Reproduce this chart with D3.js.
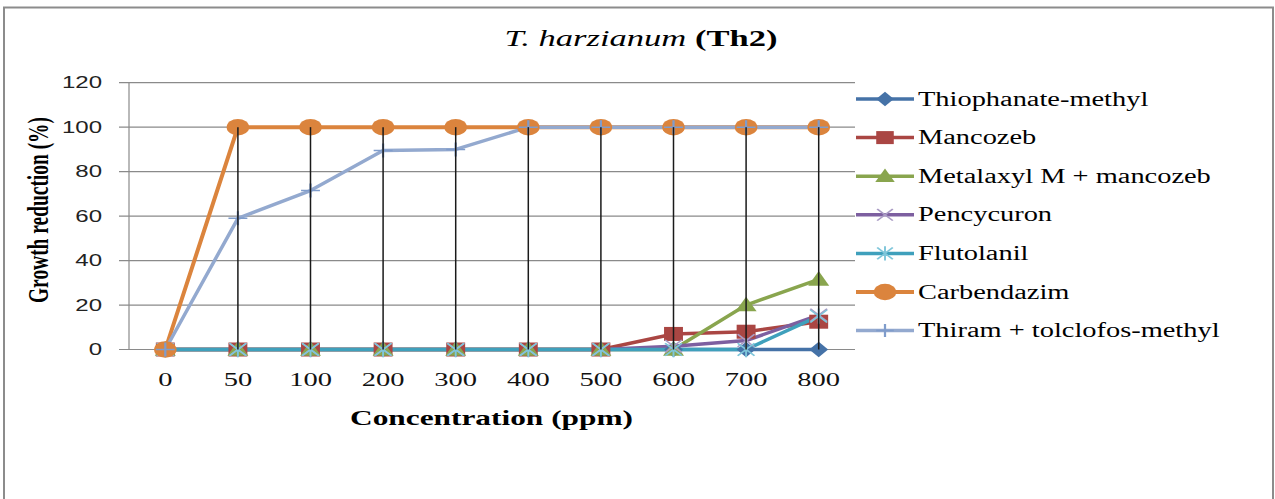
<!DOCTYPE html>
<html>
<head>
<meta charset="utf-8">
<script src="https://cdn.jsdelivr.net/npm/d3@7"></script>
<style>
  html, body { margin: 0; padding: 0; background: #fff; }
  svg { display: block; }
</style>
</head>
<body>
<svg id="chart" width="1275" height="499"></svg>
<script>
// ---------- DATA ----------
const categories = ["0", "50", "100", "200", "300", "400", "500", "600", "700", "800"];
const seriesNames = ["Thiophanate-methyl", "Mancozeb", "Metalaxyl M + mancozeb", "Pencycuron", "Flutolanil", "Carbendazim", "Thiram + tolclofos-methyl"];
const thiophanate = [0, 0, 0, 0, 0, 0, 0, 0, 0, 0];
const mancozeb    = [0, 0, 0, 0, 0, 0, 0, 7, 8, 12.5];
const metalaxyl   = [0, 0, 0, 0, 0, 0, 0, 0, 20, 31.5];
const pencycuron  = [0, 0, 0, 0, 0, 0, 0, 1.5, 4, 15.5];
const flutolanil  = [0, 0, 0, 0, 0, 0, 0, 0, 0, 15];
const carbendazim = [0, 100, 100, 100, 100, 100, 100, 100, 100, 100];
const thiram      = [0, 59, 71.5, 89.5, 90, 100, 100, 100, 100, 100];
const yTicks = [0, 20, 40, 60, 80, 100, 120];

const seriesValues = [thiophanate, mancozeb, metalaxyl, pencycuron, flutolanil, carbendazim, thiram];
const colors = ["#4572A7", "#AA4643", "#89A54E", "#7D5FA0", "#3FA0BC", "#DB843D", "#93A9CF"];
const markerColors = ["#4572A7", "#AA4643", "#89A54E", "#A99BC4", "#7FC6DA", "#DB843D", "#7F9CCB"];
const markers = ["diamond", "square", "triangle", "x", "star", "circle", "plus"];

const S = 1.5; // horizontal stretch of the original picture

const svg = d3.select("#chart");

// outer frame
svg.append("rect").attr("x", 4).attr("y", 7.5).attr("width", 1269).attr("height", 520)
  .attr("fill", "none").attr("stroke", "#8c8c8c").attr("stroke-width", 2);

const x = d3.scalePoint().domain(categories).range([129, 855]).padding(0.5);
const y = d3.scaleLinear().domain([0, 120]).range([349.5, 82.7]);

function stretch(sel, factor) {
  sel.each(function() {
    const w = this.getComputedTextLength();
    d3.select(this).attr("textLength", w * factor).attr("lengthAdjust", "spacingAndGlyphs");
  });
}

// gridlines
svg.append("g").selectAll("line").data(yTicks).join("line")
  .attr("x1", 119).attr("x2", 855)
  .attr("y1", d => y(d)).attr("y2", d => y(d))
  .attr("stroke", "#8a8a8a").attr("stroke-width", 1.2);

// y axis line
svg.append("line").attr("x1", 129).attr("x2", 129).attr("y1", y(120)).attr("y2", y(0))
  .attr("stroke", "#8a8a8a").attr("stroke-width", 1.2);

// y tick labels
const yl = svg.append("g").selectAll("text").data(yTicks).join("text")
  .attr("x", 102).attr("y", d => y(d)).attr("dy", "0.36em")
  .attr("text-anchor", "end")
  .attr("font-family", "Liberation Sans, Arial, sans-serif").attr("font-size", 16)
  .attr("fill", "#222")
  .text(d => d);
stretch(yl, S);

// x tick labels
const xl = svg.append("g").selectAll("text").data(categories).join("text")
  .attr("x", d => x(d)).attr("y", 386)
  .attr("text-anchor", "middle")
  .attr("font-family", "Liberation Serif, Times New Roman, serif").attr("font-size", 19)
  .attr("fill", "#111")
  .text(d => d);
stretch(xl, S);

// series lines
const line = d3.line().x((d, i) => x(categories[i])).y(d => y(d));
seriesValues.forEach((vals, si) => {
  svg.append("path").datum(vals)
    .attr("d", line)
    .attr("fill", "none")
    .attr("stroke", colors[si])
    .attr("stroke-width", si === 5 ? 4 : 3.5)
    .attr("stroke-linejoin", "round");
});

// marker drawing
function drawMarker(g, type, cx, cy, color, size) {
  const t = g.append("g").attr("transform", `translate(${cx},${cy}) scale(${S},1)`);
  const s = size;
  if (type === "diamond") {
    t.append("path").attr("d", `M0,${-s * 0.55}L${s * 0.45},0L0,${s * 0.55}L${-s * 0.45},0Z`).attr("fill", color);
  } else if (type === "square") {
    t.append("rect").attr("x", -s * 0.45).attr("y", -s * 0.5).attr("width", s * 0.9).attr("height", s).attr("fill", color);
  } else if (type === "triangle") {
    t.append("path").attr("d", `M0,${-s * 0.6}L${s * 0.5},${s * 0.45}L${-s * 0.5},${s * 0.45}Z`).attr("fill", color);
  } else if (type === "circle") {
    t.append("ellipse").attr("rx", s * 0.5).attr("ry", s * 0.55).attr("fill", color);
  } else if (type === "x") {
    t.append("path").attr("d", `M${-s * 0.4},${-s * 0.45}L${s * 0.4},${s * 0.45}M${-s * 0.4},${s * 0.45}L${s * 0.4},${-s * 0.45}`)
      .attr("stroke", color).attr("stroke-width", 1.3).attr("fill", "none");
  } else if (type === "star") {
    t.append("path").attr("d", `M${-s * 0.4},${-s * 0.45}L${s * 0.4},${s * 0.45}M${-s * 0.4},${s * 0.45}L${s * 0.4},${-s * 0.45}M0,${-s * 0.55}L0,${s * 0.55}`)
      .attr("stroke", color).attr("stroke-width", 1.3).attr("fill", "none");
  } else if (type === "plus") {
    t.append("path").attr("d", `M${-s * 0.45},0L${s * 0.45},0M0,${-s * 0.5}L0,${s * 0.5}`)
      .attr("stroke", color).attr("stroke-width", 1.5).attr("fill", "none");
  }
}

const mk = svg.append("g");
seriesValues.forEach((vals, si) => {
  vals.forEach((v, i) => {
    drawMarker(mk, markers[si], x(categories[i]), y(v), markerColors[si], si === 5 ? 15 : 14);
  });
});

// high-low lines
svg.append("g").selectAll("line").data(categories).join("line")
  .attr("x1", d => x(d)).attr("x2", d => x(d))
  .attr("y1", (d, i) => y(d3.max(seriesValues, s => s[i])))
  .attr("y2", (d, i) => y(d3.min(seriesValues, s => s[i])))
  .attr("stroke", "#1a1a1a").attr("stroke-width", 1.5);

// title
const title = svg.append("text").attr("x", 641).attr("y", 46).attr("text-anchor", "middle")
  .attr("font-family", "Liberation Serif, Times New Roman, serif").attr("font-size", 24).attr("fill", "#000");
title.append("tspan").attr("font-style", "italic").text("T. harzianum");
title.append("tspan").attr("font-weight", "bold").text(" (Th2)");
title.attr("textLength", 273).attr("lengthAdjust", "spacingAndGlyphs");

// x axis title
svg.append("text").attr("x", 491.5).attr("y", 425).attr("text-anchor", "middle")
  .attr("font-family", "Liberation Serif, Times New Roman, serif").attr("font-size", 21)
  .attr("font-weight", "bold").attr("fill", "#000")
  .attr("textLength", 283).attr("lengthAdjust", "spacingAndGlyphs")
  .text("Concentration (ppm)");

// y axis title
svg.append("text").attr("transform", `translate(48,210) scale(${S},1) rotate(-90)`)
  .attr("text-anchor", "middle")
  .attr("font-family", "Liberation Serif, Times New Roman, serif").attr("font-size", 20)
  .attr("font-weight", "bold").attr("fill", "#000")
  .attr("textLength", 186).attr("lengthAdjust", "spacingAndGlyphs")
  .text("Growth reduction (%)");

// legend
const legendY0 = 99, legendStep = 38.6;
const lg = svg.append("g");
seriesNames.forEach((name, si) => {
  const ly = legendY0 + si * legendStep;
  lg.append("line").attr("x1", 856).attr("x2", 914).attr("y1", ly).attr("y2", ly)
    .attr("stroke", colors[si]).attr("stroke-width", si === 5 ? 4 : 3.5);
  drawMarker(lg, markers[si], 885, ly, markerColors[si], si === 5 ? 15 : 13);
  const t = lg.append("text").attr("x", 918).attr("y", ly).attr("dy", "0.33em")
    .attr("font-family", "Liberation Serif, Times New Roman, serif").attr("font-size", 20)
    .attr("fill", "#000").text(name);
  stretch(t, 1.42);
});
</script>
</body>
</html>
